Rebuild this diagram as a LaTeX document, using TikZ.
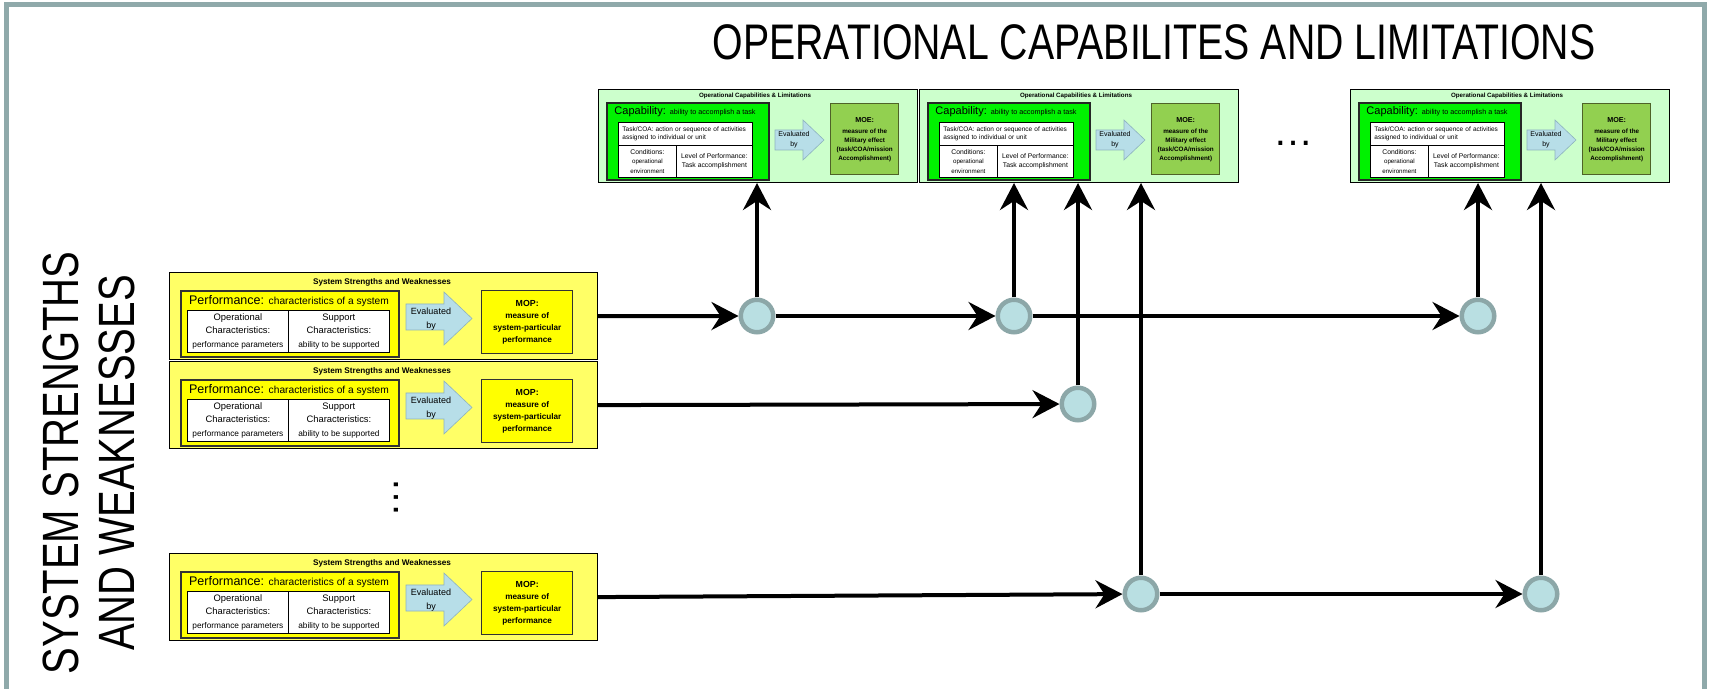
\documentclass[tikz,border=0pt]{standalone}
\usepackage{fontspec}
\setmainfont{Liberation Sans}
\usetikzlibrary{arrows.meta}
\definecolor{framegray}{HTML}{8FA9AA}
\definecolor{oclbg}{HTML}{CCFFCC}
\definecolor{capgreen}{HTML}{00F200}
\definecolor{moegreen}{HTML}{92D050}
\definecolor{moeedge}{HTML}{4F6228}
\definecolor{sswbg}{HTML}{FFFF66}
\definecolor{yel}{HTML}{FFFF00}
\definecolor{arrowblue}{HTML}{B7DEE8}
\definecolor{arrowedge}{HTML}{8DB3BE}
\definecolor{circfill}{HTML}{B9DFE2}
\definecolor{circedge}{HTML}{8CA7A8}
\newcommand\fsz[2]{\fontsize{#1}{#2}\selectfont}
\newcommand\narrow[1]{\scalebox{0.785}[1]{#1}}
\tikzset{
  box/.style={draw, inner sep=0pt, anchor=north west},
  lbl/.style={inner sep=0pt, align=center},
  oclouter/.style={box, fill=oclbg, line width=0.5pt, minimum width=159.5pt, minimum height=46.5pt},
  capbox/.style={box, fill=capgreen, draw=black!85, line width=0.8pt, minimum width=81pt, minimum height=38.5pt},
  cell/.style={box, fill=white, line width=0.4pt, align=center},
  moebox/.style={box, fill=moegreen, draw=moeedge, line width=0.7pt, minimum width=34pt, minimum height=35.5pt, align=center},
  sswouter/.style={box, fill=sswbg, line width=0.6pt, minimum width=214pt, minimum height=43.5pt},
  perfbox/.style={box, fill=yel, draw=black!80, line width=0.9pt, minimum width=109pt, minimum height=33pt},
  mopbox/.style={box, fill=yel, draw=black!80, line width=0.7pt, minimum width=45.5pt, minimum height=31.5pt, align=center},
  evalarrow/.style={fill=arrowblue, draw=arrowedge, line width=0.3pt},
  hub/.style={circle, fill=circfill, draw=circedge, line width=2.25pt, minimum size=16.25pt, inner sep=0pt},
  conn/.style={line width=2pt, -{Stealth[length=13.5pt, width=14pt, inset=4.5pt]}},
  ocl/.pic={
    \node[oclouter] (-box) at (0,0) {};
    \node[lbl, font=\bfseries\fsz{3.1pt}{4pt}] (-title) at (157,6.5) {Operational Capabilities \& Limitations};
    \node[capbox] (-cap) at (8,13) {};
    \node[lbl] (-caplbl) at (87,23) {\fsz{5.5pt}{6pt}Capability: \fsz{3.6pt}{4pt}ability to accomplish a task};
    \node[cell, align=left, text width=63pt, inner xsep=2pt, minimum height=11.5pt, font=\fsz{3.25pt}{4.4pt}] (-task) at (20,33) {Task/COA: action or sequence of activities\\assigned to individual or unit};
    \node[cell, minimum width=29pt, minimum height=16pt, font=\fsz{3.4pt}{4.6pt}] (-cond) at (20,56) {Conditions:\\{\fsz{3.1pt}{4.6pt}operational}\\{\fsz{3.1pt}{4.6pt}environment}};
    \node[cell, minimum width=38pt, minimum height=16pt, font=\fsz{3.4pt}{4.6pt}] (-lop) at (78,56) {Level of Performance:\\Task accomplishment};
    \draw[evalarrow] (177,41) -- (205,41) -- (205,31) -- (226,51) -- (205,71) -- (205,61) -- (177,61) -- cycle;
    \node[lbl, font=\fsz{3.5pt}{5pt}] (-eval) at (196,51) {Evaluated\\by};
    \node[moebox, font=\bfseries\fsz{3.15pt}{4.5pt}] (-moe) at (232,14) {{\fsz{3.6pt}{4.5pt}MOE:}\\[1pt]measure of the\\Military effect\\(task/COA/mission\\Accomplishment)};
  },
  ssw/.pic={
    \node[sswouter] (-box) at (0,0) {};
    \node[lbl, font=\bfseries\fsz{4.1pt}{5pt}] (-title) at (213,10) {System Strengths and Weaknesses};
    \node[perfbox] (-perf) at (11,18) {};
    \node[lbl] (-perflbl) at (120,29) {\fsz{6.25pt}{7pt}Performance: \fsz{5.1pt}{6pt}characteristics of a system};
    \node[cell, minimum width=50.5pt, minimum height=21pt, font=\fsz{4.7pt}{6.7pt}] (-opc) at (18,38) {Operational\\Characteristics:\\{\fsz{4.15pt}{6.7pt}performance parameters}};
    \node[cell, minimum width=50.5pt, minimum height=21pt, font=\fsz{4.7pt}{6.7pt}] (-supc) at (119,38) {Support\\Characteristics:\\{\fsz{4.15pt}{6.7pt}ability to be supported}};
    \draw[evalarrow] (237,32) -- (275,32) -- (275,20) -- (303,46.5) -- (275,73) -- (275,58) -- (237,58) -- cycle;
    \node[lbl, font=\fsz{4.5pt}{7.3pt}] (-eval) at (262,47) {Evaluated\\by};
    \node[mopbox, font=\bfseries\fsz{4.1pt}{6pt}] (-mop) at (312,18) {{\fsz{4.4pt}{6pt}MOP:}\\measure of\\system-particular\\performance};
  }
}
\begin{document}
\begin{tikzpicture}[x=0.5pt,y=-0.5pt]
\useasboundingbox (0,0) rectangle (1709,689);
\draw[framegray, line width=2.5pt] (6.5,689) -- (6.5,5) -- (1704,5) -- (1704,689);

\node[lbl, font=\fsz{25pt}{25pt}] (title) at (1154,42) {\narrow{OPERATIONAL CAPABILITES AND LIMITATIONS}};
\node[lbl, rotate=90, font=\fsz{25.5pt}{28pt}] (sidetitle) at (88.5,463) {\narrow{SYSTEM STRENGTHS}\\\narrow{AND WEAKNESSES}};

\pic (o1) at (598,89) {ocl};
\pic (o2) at (919,89) {ocl};
\pic (o3) at (1350,89) {ocl};

\pic (s1) at (169,272) {ssw};
\pic (s2) at (169,361) {ssw};
\pic (s3) at (169,553) {ssw};

\node[lbl, font=\fsz{20pt}{20pt}] (hdots) at (1293,143) {…};
\node[lbl, rotate=90, font=\fsz{20pt}{20pt}] (vdots) at (396,497) {…};

\node[hub] (c1) at (757,316) {};
\node[hub] (c2) at (1014,316) {};
\node[hub] (c3) at (1478,316) {};
\node[hub] (c4) at (1078,404) {};
\node[hub] (c5) at (1141,594) {};
\node[hub] (c6) at (1541,594) {};

\draw[conn] (s1-box.east) -- (c1);
\draw[conn] (c1) -- (c2);
\draw[conn] (c2) -- (c3);
\draw[conn] (s2-box.east) -- (c4);
\draw[conn] (s3-box.east) -- (c5);
\draw[conn] (c5) -- (c6);
\draw[conn] (c1) -- (c1 |- o1-box.south);
\draw[conn] (c2) -- (c2 |- o2-box.south);
\draw[conn] (c4) -- (c4 |- o2-box.south);
\draw[conn] (c5) -- (c5 |- o2-box.south);
\draw[conn] (c3) -- (c3 |- o3-box.south);
\draw[conn] (c6) -- (c6 |- o3-box.south);
\end{tikzpicture}
\end{document}
